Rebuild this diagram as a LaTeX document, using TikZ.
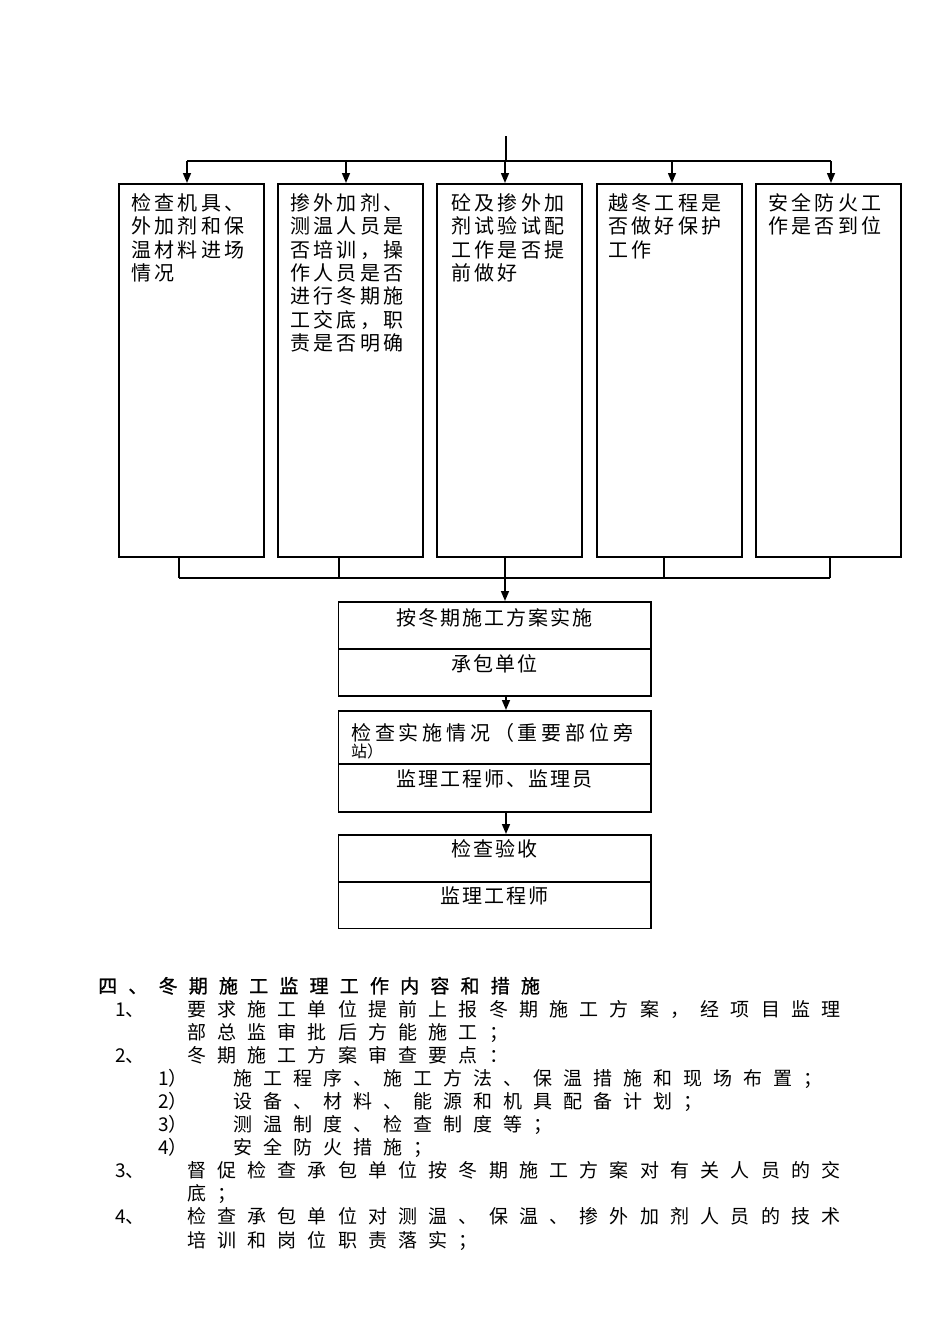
\documentclass[tikz,border=0pt]{standalone}
\usepackage{fontspec}
\newfontfamily\cjk{Noto Sans CJK SC}
\newfontfamily\cjkb[FakeBold=1.2]{Noto Sans CJK SC}
\usetikzlibrary{arrows.meta}
\makeatletter
\newcommand\spreadtxt[2]{%
  \edef\sp@run{\noexpand\@tfor\noexpand\sp@c:=#2\noexpand\do}%
  \sp@run{\makebox[#1][l]{\sp@c}}}
\makeatother
\begin{document}
\begin{tikzpicture}[x=1pt,y=-1pt,
  ln/.style={line width=1.5pt},
  arr/.style={line width=1.5pt,-{Triangle[length=10pt,width=8pt]}},
  topbox/.style={draw,line width=1.5pt,minimum width=145pt,minimum height=373pt,inner sep=0pt,anchor=north west},
  cell/.style={draw,line width=1.5pt,minimum width=312.5pt,inner sep=0pt,anchor=north west},
  toptxt/.style={anchor=base west,inner sep=0pt,font=\cjk\fontsize{20}{23}\selectfont},
  midtxt/.style={anchor=base,inner sep=0pt,font=\cjk\fontsize{20}{23}\selectfont},
  midleft/.style={anchor=base west,inner sep=0pt,font=\cjk\fontsize{20}{23}\selectfont},
  smalltxt/.style={anchor=base west,inner sep=0pt,font=\cjk\fontsize{16}{18}\selectfont},
  listtxt/.style={anchor=base west,inner sep=0pt,font=\cjk\fontsize{19}{23}\selectfont},
  titletxt/.style={anchor=base west,inner sep=0pt,font=\cjkb\fontsize{19}{23}\selectfont}]
\useasboundingbox[fill=white] (0,0) rectangle (950,1344);

% top boxes
\node[topbox] (t1) at (118,183) {};
\node[topbox] (t2) at (277,183) {};
\node[topbox] (t3) at (436,183) {};
\node[topbox] (t4) at (596,183) {};
\node[topbox] (t5) at (755,183) {};

% top connectors
\coordinate (src) at (506,136);
\coordinate (bus) at (506,161);
\coordinate (busl) at (187,161);
\coordinate (busr) at (831,161);
\draw[ln] (src) -- (bus);
\draw[ln] (busl) -- (busr);
\foreach \x/\n in {187/t1,346/t2,505/t3,672/t4,831/t5}
  \draw[arr] (\x,161) -- (\x,161 |- \n.north);

% texts in top boxes
\foreach \t [count=\i] in {检查机具、,外加剂和保,温材料进场,情况}
  \node[toptxt] (a\i) at (131,{210.5+23.33*(\i-1)}) {\spreadtxt{23.33pt}{\t}};
\foreach \t [count=\i] in {掺外加剂、,测温人员是,否培训，操,作人员是否,进行冬期施,工交底，职,责是否明确}
  \node[toptxt] (b\i) at (290,{210.5+23.33*(\i-1)}) {\spreadtxt{23.33pt}{\t}};
\foreach \t [count=\i] in {砼及掺外加,剂试验试配,工作是否提,前做好}
  \node[toptxt] (c\i) at (451,{210.5+23.33*(\i-1)}) {\spreadtxt{23.33pt}{\t}};
\foreach \t [count=\i] in {越冬工程是,否做好保护,工作}
  \node[toptxt] (d\i) at (608,{210.5+23.33*(\i-1)}) {\spreadtxt{23.33pt}{\t}};
\foreach \t [count=\i] in {安全防火工,作是否到位}
  \node[toptxt] (e\i) at (768,{210.5+23.33*(\i-1)}) {\spreadtxt{23.33pt}{\t}};

% bottom collector
\foreach \x/\n in {179/t1,339/t2,505/t3,664/t4,830/t5}
  \draw[ln] (\x,0 |- \n.south) -- (\x,578);
\coordinate (coll) at (505,578);
\draw[ln] (179,578) -- (830,578);

% middle boxes
\node[cell,minimum height=47pt] (m1a) at (337.5,601) {};
\node[cell,minimum height=47pt] (m1b) at (337.5,648) {};
\node[cell,minimum height=53pt] (m2a) at (337.5,710) {};
\node[cell,minimum height=48pt] (m2b) at (337.5,763) {};
\node[cell,minimum height=47pt] (m3a) at (337.5,834) {};
\node[cell,minimum height=46.5pt] (m3b) at (337.5,881) {};

\draw[arr] (coll) -- (505,0 |- m1a.north);
\draw[arr] (506,0 |- m1b.south) -- (506,0 |- m2a.north);
\draw[arr] (506,0 |- m2b.south) -- (506,0 |- m3a.north);

% middle texts
\node[midtxt] (m1at) at (495,625) {\spreadtxt{22pt}{按冬期施工方案实施}};
\node[midtxt] (m1bt) at (495,671) {\spreadtxt{22pt}{承包单位}};
\node[midleft] (m2at) at (351,740) {\spreadtxt{23.8pt}{检查实施情况（重要部位旁}};
\node[smalltxt] (m2at2) at (351,757) {站）};
\node[midtxt] (m2bt) at (495,786) {\spreadtxt{22pt}{监理工程师、监理员}};
\node[midtxt] (m3at) at (495,856) {\spreadtxt{22pt}{检查验收}};
\node[midtxt] (m3bt) at (495,903) {\spreadtxt{22pt}{监理工程师}};

% list
\node[titletxt] (title) at (98,993) {\spreadtxt{30.2pt}{四、冬期施工监理工作内容和措施}};
\node[listtxt] (n1) at (115,1016) {1、};
\node[listtxt] (l1) at (187,1016) {\spreadtxt{30.2pt}{要求施工单位提前上报冬期施工方案，经项目监理}};
\node[listtxt] (l2) at (187,1039.1) {\spreadtxt{30.2pt}{部总监审批后方能施工；}};
\node[listtxt] (n2) at (115,1062.2) {2、};
\node[listtxt] (l3) at (187,1062.2) {\spreadtxt{30.2pt}{冬期施工方案审查要点：}};
\node[listtxt] (s1) at (158,1085.3) {1）};
\node[listtxt] (l4) at (233,1085.3) {\spreadtxt{30pt}{施工程序、施工方法、保温措施和现场布置；}};
\node[listtxt] (s2) at (158,1108.4) {2）};
\node[listtxt] (l5) at (233,1108.4) {\spreadtxt{30pt}{设备、材料、能源和机具配备计划；}};
\node[listtxt] (s3) at (158,1131.5) {3）};
\node[listtxt] (l6) at (233,1131.5) {\spreadtxt{30pt}{测温制度、检查制度等；}};
\node[listtxt] (s4) at (158,1154.6) {4）};
\node[listtxt] (l7) at (233,1154.6) {\spreadtxt{30pt}{安全防火措施；}};
\node[listtxt] (n3) at (115,1177.7) {3、};
\node[listtxt] (l8) at (187,1177.7) {\spreadtxt{30.2pt}{督促检查承包单位按冬期施工方案对有关人员的交}};
\node[listtxt] (l9) at (187,1200.8) {\spreadtxt{30.2pt}{底；}};
\node[listtxt] (n4) at (115,1223.9) {4、};
\node[listtxt] (l10) at (187,1223.9) {\spreadtxt{30.2pt}{检查承包单位对测温、保温、掺外加剂人员的技术}};
\node[listtxt] (l11) at (187,1247) {\spreadtxt{30.2pt}{培训和岗位职责落实；}};
\end{tikzpicture}
\end{document}
